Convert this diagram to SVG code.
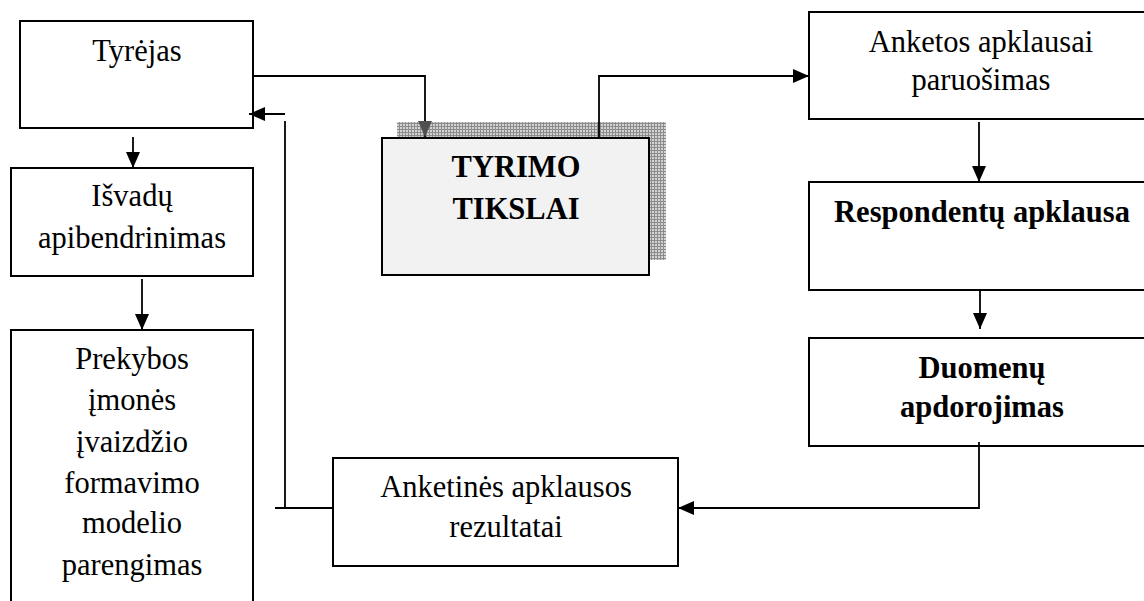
<svg xmlns="http://www.w3.org/2000/svg" width="1144" height="601" viewBox="0 0 1144 601">
  <style>
    .box { fill: #ffffff; stroke: #000000; stroke-width: 2; }
    .goal { fill: #f2f2f2; stroke: #000000; stroke-width: 2; }
    .lbl { font-family: "Liberation Serif", "Times New Roman", serif; font-size: 30.5px; fill: #000000; text-anchor: middle; }
    .bold { font-weight: bold; }
    .wire { fill: none; stroke: #000000; stroke-width: 1.8; }
  </style>
  <defs>
    <pattern id="grid" width="3" height="3" patternUnits="userSpaceOnUse">
      <rect width="3" height="3" fill="#d2d2d2"/>
      <path d="M0,0.5 H3 M0.5,0 V3" stroke="#8c8c8c" stroke-width="1"/>
    </pattern>
    <marker id="arrow" markerUnits="userSpaceOnUse" markerWidth="16" markerHeight="14" refX="16" refY="7" orient="auto">
      <path d="M0,0 L16,7 L0,14 z" fill="#000000"/>
    </marker>
    <marker id="arrowShaded" markerUnits="userSpaceOnUse" markerWidth="16" markerHeight="14" refX="16" refY="7" orient="auto">
      <path d="M0,0 L16,7 L0,14 z" fill="#505050"/>
    </marker>
  </defs>

  <!-- shadow behind the research goals box -->
  <rect x="397" y="122" width="269" height="138" fill="url(#grid)"/>

  <g id="node-tyrejas">
    <rect class="box" x="20" y="21" width="233" height="107"/>
    <text class="lbl" x="137" y="61">Tyrėjas</text>
  </g>

  <g id="node-isvadu">
    <rect class="box" x="11" y="168" width="242" height="108"/>
    <text class="lbl" x="132" y="206">Išvadų</text>
    <text class="lbl" x="132" y="248">apibendrinimas</text>
  </g>

  <g id="node-prekybos">
    <rect class="box" x="11" y="330" width="242" height="280"/>
    <text class="lbl" x="132" y="369">Prekybos</text>
    <text class="lbl" x="132" y="410">įmonės</text>
    <text class="lbl" x="132" y="452">įvaizdžio</text>
    <text class="lbl" x="132" y="493">formavimo</text>
    <text class="lbl" x="132" y="533">modelio</text>
    <text class="lbl" x="132" y="575">parengimas</text>
  </g>

  <g id="node-tikslai">
    <rect class="goal" x="382" y="138" width="267" height="137"/>
    <text class="lbl bold" x="516" y="177">TYRIMO</text>
    <text class="lbl bold" x="516" y="219">TIKSLAI</text>
  </g>

  <g id="node-anketos">
    <rect class="box" x="809" y="12" width="345" height="107"/>
    <text class="lbl" x="981" y="52">Anketos apklausai</text>
    <text class="lbl" x="981" y="90">paruošimas</text>
  </g>

  <g id="node-respondentu">
    <rect class="box" x="809" y="182" width="345" height="108"/>
    <text class="lbl bold" x="982" y="222">Respondentų apklausa</text>
  </g>

  <g id="node-duomenu">
    <rect class="box" x="809" y="338" width="345" height="108"/>
    <text class="lbl bold" x="982" y="378">Duomenų</text>
    <text class="lbl bold" x="982" y="417">apdorojimas</text>
  </g>

  <g id="node-rezultatai">
    <rect class="box" x="333" y="458" width="345" height="108"/>
    <text class="lbl" x="506" y="497">Anketinės apklausos</text>
    <text class="lbl" x="506" y="537">rezultatai</text>
  </g>

  <g id="connectors">
    <path class="wire" d="M253,76 H425 V137" marker-end="url(#arrowShaded)"/>
    <path class="wire" d="M599,138 V76 H809" marker-end="url(#arrow)"/>
    <path class="wire" d="M133,137 V168" marker-end="url(#arrow)"/>
    <path class="wire" d="M142,279 V330" marker-end="url(#arrow)"/>
    <path class="wire" d="M979,122 V182" marker-end="url(#arrow)"/>
    <path class="wire" d="M980,290 V329" marker-end="url(#arrow)"/>
    <path class="wire" d="M979,442 V508 H678" marker-end="url(#arrow)"/>
    <path class="wire" d="M333,508 H275"/>
    <path class="wire" d="M285,508 V121"/>
    <path class="wire" d="M285,114 H249" marker-end="url(#arrow)"/>
  </g>
</svg>
